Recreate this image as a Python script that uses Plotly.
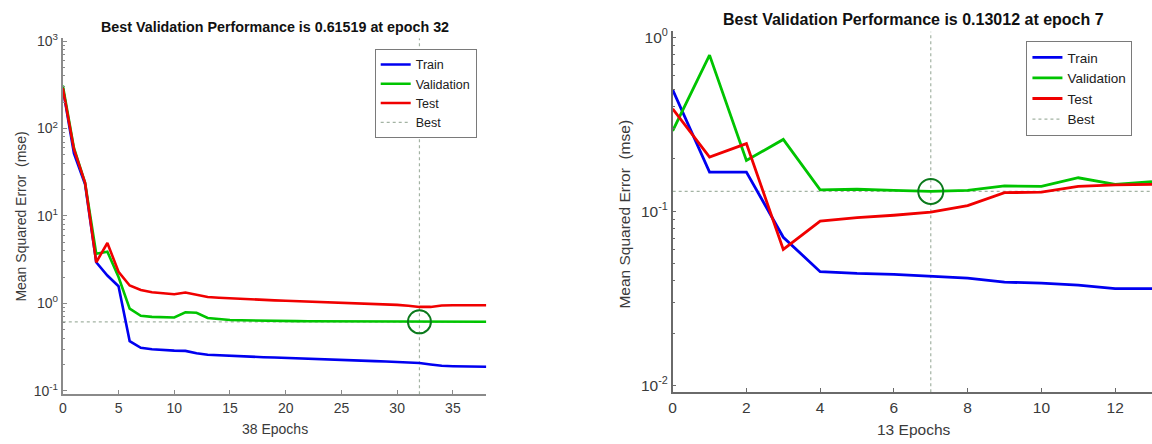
import plotly.graph_objects as go

# ---------------- data ----------------
epochs_left = list(range(0, 39))
train_left = [290, 52, 23, 2.95, 2.08, 1.57, 0.37, 0.31, 0.298, 0.292, 0.288, 0.286, 0.268, 0.258,
              0.254, 0.250, 0.248, 0.245, 0.242, 0.240, 0.237, 0.235, 0.232, 0.229, 0.226, 0.224,
              0.222, 0.220, 0.218, 0.216, 0.214, 0.211, 0.208, 0.200, 0.193, 0.191, 0.190, 0.189, 0.188]
val_left = [310, 60, 24, 3.7, 3.9, 2.0, 0.87, 0.72, 0.70, 0.69, 0.69, 0.79, 0.78, 0.68,
            0.66, 0.645, 0.64, 0.635, 0.632, 0.630, 0.628, 0.626, 0.625, 0.624, 0.623, 0.622,
            0.621, 0.620, 0.619, 0.618, 0.617, 0.616, 0.61519, 0.618, 0.615, 0.615, 0.615, 0.615, 0.615]
test_left = [290, 58, 24, 2.95, 4.9, 2.3, 1.6, 1.42, 1.34, 1.30, 1.27, 1.33, 1.25, 1.18,
             1.16, 1.14, 1.13, 1.11, 1.10, 1.08, 1.07, 1.06, 1.05, 1.04, 1.02, 1.01,
             1.00, 0.99, 0.98, 0.97, 0.96, 0.94, 0.91, 0.91, 0.945, 0.95, 0.95, 0.95, 0.95]
best_epoch_left = 32
best_val_left = 0.61519

epochs_right = list(range(0, 14))
train_right = [0.50, 0.168, 0.168, 0.071, 0.045, 0.044, 0.0435, 0.0424, 0.0414, 0.0392, 0.0387, 0.0377, 0.0360, 0.0360]
val_right = [0.29, 0.79, 0.196, 0.259, 0.133, 0.134, 0.132, 0.13012, 0.132, 0.140, 0.139, 0.156, 0.143, 0.148]
test_right = [0.388, 0.205, 0.245, 0.0605, 0.088, 0.092, 0.095, 0.099, 0.108, 0.128, 0.129, 0.139, 0.142, 0.143]
best_epoch_right = 7
best_val_right = 0.13012

titles = ["Best Validation Performance is 0.61519 at epoch 32",
          "Best Validation Performance is 0.13012 at epoch 7"]
xlabels = ["38 Epochs", "13 Epochs"]
ylabel = "Mean Squared Error\u00a0\u00a0(mse)"
series_names = ["Train", "Validation", "Test", "Best"]

# ---------------- style ----------------
W, H = 1152, 444
FONT = "Liberation Sans, Arial, Helvetica, sans-serif"
C_TRAIN, C_VAL, C_TEST = "#0000f0", "#00c400", "#f00000"
C_BEST = "#a3b3a3"
C_CIRCLE = "#0b7a1c"
TICKC = "#3a3a3a"

def px_x(p):
    return p / W

def px_y(p):
    return 1 - p / H

left_yrange = [-1.039, 3.033]
right_yrange = [-2.039, 0.034]

fig = go.Figure()

def add_panel(xa, ya, leg, ep, tr, va, te, be, bv, yr, nep, lw, csize):
    ylo, yhi = 10 ** yr[0], 10 ** yr[1]
    fig.add_trace(go.Scatter(x=[be, be, None, 0, nep], y=[ylo, yhi, None, bv, bv], mode="lines",
                             line=dict(color=C_BEST, width=1.2, dash="dot"), name=series_names[3],
                             legend=leg, legendrank=4, xaxis=xa, yaxis=ya, hoverinfo="skip"))
    for vals, col, nm, rk in [(tr, C_TRAIN, series_names[0], 1), (va, C_VAL, series_names[1], 2),
                              (te, C_TEST, series_names[2], 3)]:
        fig.add_trace(go.Scatter(x=ep, y=vals, mode="lines", line=dict(color=col, width=lw),
                                 name=nm, legend=leg, legendrank=rk, xaxis=xa, yaxis=ya))
    fig.add_trace(go.Scatter(x=[be], y=[bv], mode="markers", showlegend=False,
                             marker=dict(symbol="circle-open", size=csize, color=C_CIRCLE,
                                         line=dict(width=2, color=C_CIRCLE)),
                             xaxis=xa, yaxis=ya))

add_panel("x", "y", "legend", epochs_left, train_left, val_left, test_left,
          best_epoch_left, best_val_left, left_yrange, len(epochs_left) - 1, 2.6, 23)
add_panel("x2", "y2", "legend2", epochs_right, train_right, val_right, test_right,
          best_epoch_right, best_val_right, right_yrange, len(epochs_right) - 1, 2.8, 25)

def xaxis(dom, rng, dt, lc, lw, anchor, fs):
    return dict(domain=dom, range=rng, dtick=dt, tick0=0, showgrid=False, zeroline=False,
                showline=True, linecolor=lc, linewidth=lw, ticks="inside", ticklen=4,
                tickcolor=lc, anchor=anchor, tickfont=dict(family=FONT, size=fs, color=TICKC),
                mirror=False)

def yaxis(dom, rng, lc, lw, anchor, kmin, kmax, fs):
    minor_vals = [m * 10 ** k for k in range(kmin, kmax) for m in range(2, 10)]
    return dict(domain=dom, type="log", range=rng, showgrid=False, zeroline=False,
                showline=True, linecolor=lc, linewidth=lw, ticks="inside", ticklen=4,
                tickcolor=lc, anchor=anchor,
                tickvals=[10 ** k for k in range(kmin, kmax + 1)],
                ticktext=["10<sup>%d</sup>" % k for k in range(kmin, kmax + 1)],
                tickfont=dict(family=FONT, size=fs, color=TICKC),
                minor=dict(tickvals=minor_vals, ticks="inside", ticklen=2.5, tickcolor=lc,
                           showgrid=False))

def legend_style(fs):
    return dict(bgcolor="white", bordercolor="#7a7a7a", borderwidth=1,
                font=dict(family=FONT, size=fs, color="#202020"),
                xanchor="left", yanchor="top", tracegroupgap=0, itemwidth=30)

def ann(text, x, y, size, color, angle=0):
    return dict(text=text, x=px_x(x), y=px_y(y), xref="paper", yref="paper",
                xanchor="center", yanchor="middle", textangle=angle, showarrow=False,
                font=dict(family=FONT, size=size, color=color))

annotations = [
    ann("<b>%s</b>" % titles[0], 272, 20, 14.3, "#111"),
    ann("<b>%s</b>" % titles[1], 913, 13, 16, "#111"),
    ann(xlabels[0], 272, 433, 14, TICKC),
    ann(xlabels[1], 913, 433, 15.5, TICKC),
    ann(ylabel, 17, 215, 14, TICKC, -90),
    ann(ylabel, 623, 212, 15.5, TICKC, -90),
]

fig.update_layout(
    width=W, height=H, margin=dict(l=0, r=0, t=0, b=0),
    paper_bgcolor="white", plot_bgcolor="white", showlegend=True,
    xaxis=xaxis([px_x(59), px_x(484)], [0, len(epochs_left) - 1], 5, "#8a8a8a", 2, "y", 14),
    yaxis=yaxis([px_y(397), px_y(32)], left_yrange, "#8a8a8a", 2, "x", -1, 3, 14),
    xaxis2=xaxis([px_x(671), 1.0], [0, len(epochs_right) - 1], 2, "#6a6a6a", 1.5, "y2", 15.5),
    yaxis2=yaxis([px_y(395), px_y(25)], right_yrange, "#6a6a6a", 1.5, "x2", -2, 0, 15.5),
    legend=dict(legend_style(12.5), x=px_x(372), y=px_y(43)),
    legend2=dict(legend_style(13.5), x=px_x(1026), y=px_y(35)),
    annotations=annotations,
)

fig.write_html("out.html")
